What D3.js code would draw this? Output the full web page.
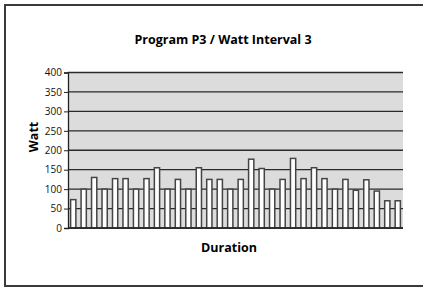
<!DOCTYPE html>
<html>
<head>
<meta charset="utf-8">
<script src="https://cdn.jsdelivr.net/npm/d3@7"></script>
<style>
  body { margin: 0; background: #fff; }
  svg { display: block; font-family: "Open Sans", "Noto Sans", sans-serif; }
</style>
</head>
<body>
<svg id="chart"></svg>
<script>
// data
const durations = d3.range(1, 33)
const watts = [73, 100, 130, 100, 127, 127, 100, 127, 155, 100,
               125, 100, 155, 125, 125, 100, 125, 177, 153, 100,
               125, 179, 127, 155, 127, 100, 125, 97, 124, 95,
               70, 70]
const yTicks = [0, 50, 100, 150, 200, 250, 300, 350, 400]

const width = 423
const height = 288
const margin = { top: 72.5, right: 20, bottom: 60, left: 68 }

const svg = d3.select("#chart")
    .attr("width", width)
    .attr("height", height)

// outer frame (right side runs off the picture)
svg.append("path")
    .attr("d", `M${width + 5},5 H5 V286 H${width + 5}`)
    .attr("fill", "none")
    .attr("stroke", "#3a3a3a")
    .attr("stroke-width", 2)

const x = d3.scaleBand()
    .domain(durations)
    .range([margin.left, width - margin.right])
    .paddingInner(0.5)
    .paddingOuter(0.25)

const y = d3.scaleLinear()
    .domain([0, 400])
    .range([height - margin.bottom, margin.top])

// plot background
svg.append("rect")
    .attr("x", margin.left)
    .attr("y", y(400))
    .attr("width", width - margin.right - margin.left)
    .attr("height", y(0) - y(400))
    .attr("fill", "#dcdcdc")

// gridlines
svg.selectAll(".grid")
    .data(yTicks)
    .enter()
    .append("line")
    .attr("class", "grid")
    .attr("x1", margin.left)
    .attr("x2", width - margin.right)
    .attr("y1", d => y(d))
    .attr("y2", d => y(d))
    .attr("stroke", "#2a2a2a")
    .attr("stroke-width", 1.3)

// bars
svg.selectAll(".bar")
    .data(watts)
    .enter()
    .append("rect")
    .attr("class", "bar")
    .attr("x", (d, i) => x(durations[i]))
    .attr("y", d => y(d))
    .attr("width", x.bandwidth())
    .attr("height", d => y(0) - y(d))
    .attr("fill", "#fff")
    .attr("stroke", "#444")
    .attr("stroke-width", 1.5)

// y axis
const yAxis = svg.append("g")
    .attr("transform", `translate(${margin.left},0)`)
    .call(d3.axisLeft(y).tickValues(yTicks).tickSize(4).tickPadding(2))

yAxis.select(".domain").attr("stroke", "#222").attr("stroke-width", 1.3)
yAxis.selectAll(".tick line").attr("stroke", "#222")
yAxis.selectAll("text")
    .attr("font-size", 10)
    .attr("fill", "#111")
    .attr("font-family", "'Open Sans', sans-serif")

// x baseline
svg.append("line")
    .attr("x1", margin.left)
    .attr("x2", width - margin.right)
    .attr("y1", y(0))
    .attr("y2", y(0))
    .attr("stroke", "#222")
    .attr("stroke-width", 1.5)

// titles
svg.append("text")
    .attr("x", 223)
    .attr("y", 44)
    .attr("text-anchor", "middle")
    .attr("font-size", 12.5)
    .attr("font-weight", "bold")
    .attr("fill", "#000")
    .text("Program P3 / Watt Interval 3")

svg.append("text")
    .attr("x", 229)
    .attr("y", 252)
    .attr("text-anchor", "middle")
    .attr("font-size", 12.5)
    .attr("font-weight", "bold")
    .attr("fill", "#000")
    .text("Duration")

svg.append("text")
    .attr("transform", "translate(38,137) rotate(-90)")
    .attr("text-anchor", "middle")
    .attr("font-size", 12.5)
    .attr("font-weight", "bold")
    .attr("fill", "#000")
    .text("Watt")
</script>
</body>
</html>
